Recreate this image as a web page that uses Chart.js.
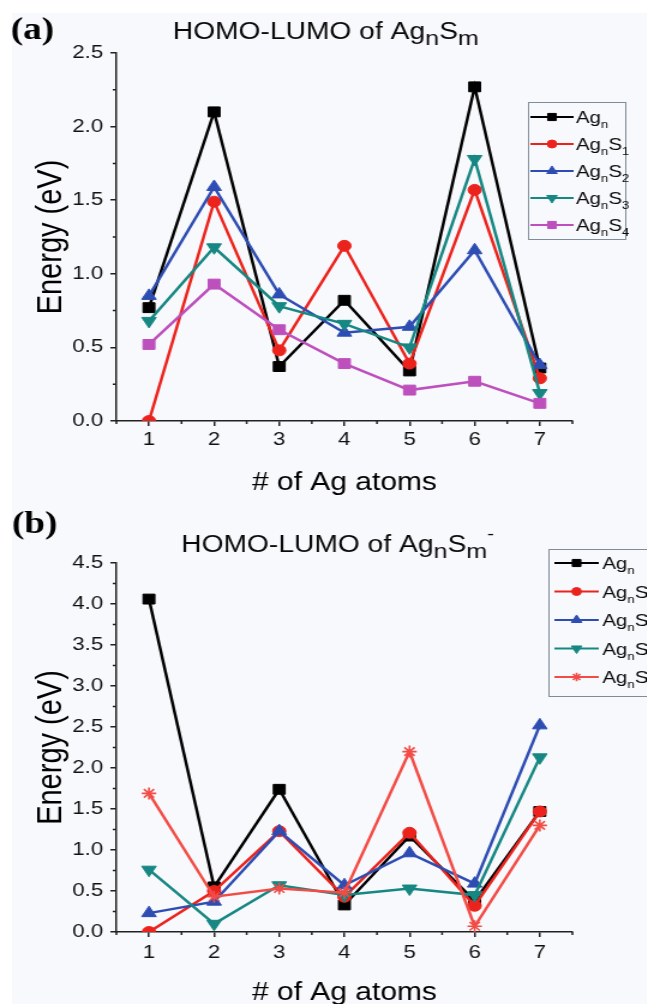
<!DOCTYPE html>
<html>
<head>
<meta charset="utf-8">
<title>HOMO-LUMO of AgnSm</title>
<script src="https://cdn.jsdelivr.net/npm/chart.js@4.4.1/dist/chart.umd.min.js"></script>
<style>
  body { margin: 0; background: #fff; }
  #page { position: relative; width: 647px; height: 1004px; overflow: hidden; }
  #tint { position: absolute; left: 12px; top: 13px; right: 0; bottom: 0; background: #f8f9fc; }
  /* the original figure is stretched sideways a little */
  canvas { position: absolute; left: 0; transform: scaleX(1.2); transform-origin: 0 0; }
  #chartA { top: 0; }
  #chartB { top: 505px; }
</style>
</head>
<body>
<div id="page">
  <div id="tint"></div>
  <canvas id="chartA" width="539" height="505"></canvas>
  <canvas id="chartB" width="539" height="499"></canvas>
</div>
<script>
// x axis: number of Ag atoms
var atoms = [1, 2, 3, 4, 5, 6, 7];
var xTicks = [1, 2, 3, 4, 5, 6, 7];
var yTicksA = [0, 0.5, 1.0, 1.5, 2.0, 2.5];
var yTicksB = [0, 0.5, 1.0, 1.5, 2.0, 2.5, 3.0, 3.5, 4.0, 4.5];
var seriesLabels = ['Ag_n', 'Ag_nS_1', 'Ag_nS_2', 'Ag_nS_3', 'Ag_nS_4'];

// (a) neutral AgnSm, gap in eV
var agA   = [0.77, 2.10, 0.37, 0.82, 0.34, 2.27, 0.36];
var ags1A = [0.00, 1.49, 0.48, 1.19, 0.39, 1.57, 0.29];
var ags2A = [0.85, 1.59, 0.86, 0.60, 0.64, 1.16, 0.38];
var ags3A = [0.68, 1.18, 0.78, 0.66, 0.50, 1.78, 0.19];
var ags4A = [0.52, 0.93, 0.62, 0.39, 0.21, 0.27, 0.12];

// (b) anions AgnSm-
var agB   = [4.06, 0.55, 1.74, 0.33, 1.17, 0.38, 1.47];
var ags1B = [0.00, 0.50, 1.23, 0.43, 1.21, 0.32, 1.47];
var ags2B = [0.23, 0.37, 1.23, 0.57, 0.96, 0.59, 2.52];
var ags3B = [0.76, 0.10, 0.57, 0.45, 0.53, 0.45, 2.13];
var ags4B = [1.69, 0.43, 0.53, 0.48, 2.20, 0.07, 1.30];

var FONT = '"Liberation Sans", Arial, Helvetica, sans-serif';
var axisColor = '#222';
Chart.defaults.font.family = FONT;

var stylesA = [
  {color: '#000000', shape: 'rect', r: 7},
  {color: '#ec231d', shape: 'circle', r: 5.5},
  {color: '#2d4db3', shape: 'triangle', r: 7},
  {color: '#168782', shape: 'triangle', r: 7, rot: 180},
  {color: '#bd50bd', shape: 'rect', r: 7}
];
var stylesB = stylesA.slice(0, 4).concat([{color: '#f24c46', shape: 'star', r: 6}]);

// text with _x subscripts and ^x superscripts
function drawRich(ctx, str, x, y, f) {
  var cx = x;
  for (var i = 0; i < str.length; i++) {
    var ch = str[i], fs = f.size, dy = 0;
    if (ch === '_') { dy = f.down; fs = f.sub; ch = str[++i]; }
    else if (ch === '^') { dy = -f.up; fs = f.sup; ch = str[++i]; }
    ctx.font = fs + 'px ' + FONT;
    ctx.fillText(ch, cx, y + dy);
    cx += ctx.measureText(ch).width;
  }
}

var minorTicks = {
  id: 'minorTicks',
  afterDraw: function(chart) {
    var ctx = chart.ctx;
    ctx.save();
    ctx.strokeStyle = axisColor;
    ctx.lineWidth = 1.5;
    ctx.beginPath();
    ['x', 'y'].forEach(function(id) {
      var s = chart.scales[id], t = s.ticks;
      var step = t[1].value - t[0].value;
      for (var v = t[0].value - step / 2; v <= s.max + 1e-9; v += step) {
        if (v < s.min - 1e-9) continue;
        var p = s.getPixelForValue(v);
        if (id === 'x') { ctx.moveTo(p, s.top); ctx.lineTo(p, s.top + 3); }
        else { ctx.moveTo(s.right - 3, p); ctx.lineTo(s.right, p); }
      }
    });
    ctx.stroke();
    ctx.restore();
  }
};

var panelTitle = {
  id: 'panelTitle',
  afterDraw: function(chart, args, o) {
    var ctx = chart.ctx;
    ctx.save();
    ctx.fillStyle = '#000';
    ctx.textBaseline = 'alphabetic';
    ctx.font = 'bold 31px "Liberation Serif", "Times New Roman", serif';
    ctx.fillText(o.panel, o.px, o.py);
    ctx.fillStyle = '#0a0a0a';
    drawRich(ctx, o.text, o.x, o.y, {size: 23.5, sub: 21, down: 6, sup: 17, up: 13});
    ctx.restore();
  }
};

var boxLegend = {
  id: 'boxLegend',
  afterDraw: function(chart, args, o) {
    var ctx = chart.ctx;
    ctx.save();
    ctx.lineWidth = 1;
    ctx.strokeStyle = '#7f8c99';
    ctx.strokeRect(o.x + 0.5, o.y + 0.5, o.w, o.h);
    chart.data.datasets.forEach(function(ds, i) {
      var cy = o.y + o.first + i * o.gap;
      ctx.strokeStyle = ds.borderColor;
      ctx.lineWidth = 2.2;
      ctx.beginPath();
      ctx.moveTo(o.x + o.l0, cy);
      ctx.lineTo(o.x + o.l1, cy);
      ctx.stroke();
      ctx.fillStyle = ds.pointBackgroundColor;
      ctx.strokeStyle = ds.pointBorderColor;
      ctx.lineWidth = ds.pointBorderWidth;
      Chart.helpers.drawPoint(ctx, {
        pointStyle: ds.pointStyle, radius: ds.pointRadius * 0.72,
        rotation: ds.pointRotation, borderWidth: ds.pointBorderWidth
      }, o.x + (o.l0 + o.l1) / 2, cy);
      ctx.fillStyle = '#0a0a0a';
      ctx.textBaseline = 'alphabetic';
      drawRich(ctx, ds.label, o.x + o.tx, cy + 6, {size: 17, sub: 11, down: 5, sup: 11, up: 8});
    });
    ctx.restore();
  }
};

function makeChart(id, series, styles, yTicks, cfg) {
  var datasets = series.map(function(vals, i) {
    var s = styles[i];
    return {
      label: seriesLabels[i],
      data: atoms.map(function(a, k) { return {x: a, y: vals[k]}; }),
      borderColor: s.color,
      backgroundColor: s.color,
      pointBackgroundColor: s.color,
      pointBorderColor: s.color,
      borderWidth: 2.5,
      pointStyle: s.shape,
      pointRadius: s.r,
      pointRotation: s.rot || 0,
      pointBorderWidth: s.shape === 'star' ? 1.6 : 1,
      tension: 0,
      order: series.length - i
    };
  });

  return new Chart(document.getElementById(id), {
    type: 'line',
    data: {datasets: datasets},
    options: {
      responsive: false,
      animation: false,
      events: [],
      layout: {padding: {left: 0, right: 62, top: cfg.top, bottom: 0}},
      plugins: {
        legend: {display: false},
        tooltip: {enabled: false},
        panelTitle: cfg.title,
        boxLegend: cfg.legend
      },
      scales: {
        x: {
          type: 'linear',
          min: 0.5,
          max: 7.5,
          afterBuildTicks: function(s) { s.ticks = xTicks.map(function(v) { return {value: v}; }); },
          afterFit: function(s) { s.height = cfg.xh; },
          grid: {drawOnChartArea: false, tickLength: 5, color: axisColor, lineWidth: 1.5},
          border: {display: true, color: axisColor, width: 1.5},
          ticks: {
            autoSkip: false, maxRotation: 0, padding: cfg.tickPad,
            font: {size: 18.5}, color: '#111',
            callback: function(v) { return v; }
          },
          title: {display: true, text: '# of Ag atoms', font: {size: 25}, color: '#000',
                  padding: {top: 0, bottom: cfg.xtPad}}
        },
        y: {
          min: 0,
          max: yTicks[yTicks.length - 1],
          afterBuildTicks: function(s) { s.ticks = yTicks.map(function(v) { return {value: v}; }); },
          afterFit: function(s) { s.width = 97; },
          grid: {drawOnChartArea: false, tickLength: 5, color: axisColor, lineWidth: 1.5},
          border: {display: true, color: axisColor, width: 1.5},
          ticks: {
            autoSkip: false, padding: 6, font: {size: 18.5}, color: '#111',
            callback: function(v) { return v.toFixed(1); }
          },
          title: {display: true, text: 'Energy (eV)', font: {size: 29}, color: '#000',
                  padding: {top: 26, bottom: 0}}
        }
      }
    },
    plugins: [minorTicks, panelTitle, boxLegend]
  });
}

makeChart('chartA', [agA, ags1A, ags2A, ags3A, ags4A], stylesA, yTicksA, {
  top: 53, xh: 84, tickPad: 3, xtPad: 7,
  title: {panel: '(a)', px: 9, py: 39, text: 'HOMO-LUMO of Ag_nS_m', x: 144, y: 39},
  legend: {x: 440, y: 102, w: 81, h: 137, first: 15, gap: 27, l0: 2, l1: 38, tx: 40}
});

makeChart('chartB', [agB, ags1B, ags2B, ags3B, ags4B], stylesB, yTicksB, {
  top: 58, xh: 72, tickPad: 5, xtPad: -4,
  title: {panel: '(b)', px: 10, py: 28, text: 'HOMO-LUMO of Ag_nS_m^-', x: 151, y: 47},
  legend: {x: 457, y: 44, w: 95, h: 147, first: 14, gap: 28.5, l0: 5, l1: 42, tx: 45}
});
</script>
</body>
</html>
